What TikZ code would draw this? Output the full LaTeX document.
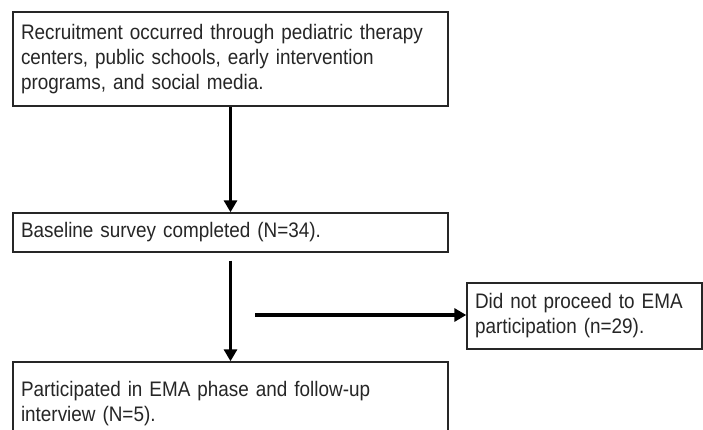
\documentclass[tikz,border=0pt]{standalone}
\usepackage{fontspec}
\setmainfont[FakeStretch=0.9]{Liberation Sans}
\usetikzlibrary{arrows.meta}
\begin{document}
\begin{tikzpicture}[x=1pt,y=-1pt,
  boxnode/.style={draw=black!85,line width=1.4pt,inner xsep=8pt,inner ysep=0pt,
    align=left,text=black!85,font=\fontsize{21}{25}\selectfont},
  flowarrow/.style={line width=3.6pt,-{Triangle[length=12pt,width=13pt]},black}]
\useasboundingbox (0,0) rectangle (703,430);
\clip (0,0) rectangle (703,430);
\fill[white] (0,0) rectangle (703,430);
\node[boxnode,minimum width=435pt,minimum height=94pt,text width=419pt] (recruit) at (230.5,59)
  {Recruitment occurred through pediatric therapy\\centers, public schools, early intervention\\programs, and social media.};
\node[boxnode,minimum width=435pt,minimum height=39pt,text width=419pt] (baseline) at (230.5,232.5)
  {Baseline survey completed (N=34).};
\node[boxnode,minimum width=435pt,minimum height=83pt,text width=419pt] (ema) at (230.5,403.5)
  {Participated in EMA phase and follow-up\\interview (N=5).};
\node[boxnode,minimum width=235pt,minimum height=66pt,text width=219pt] (notproc) at (584.5,316)
  {Did not proceed to EMA\\participation (n=29).};
\draw[flowarrow] (recruit.south) -- (baseline.north);
\draw[flowarrow,shorten <=8pt] (baseline.south) -- (ema.north);
\coordinate (branch) at (255,315);
\draw[flowarrow] (branch) -- (branch -| notproc.west);
\end{tikzpicture}
\end{document}
